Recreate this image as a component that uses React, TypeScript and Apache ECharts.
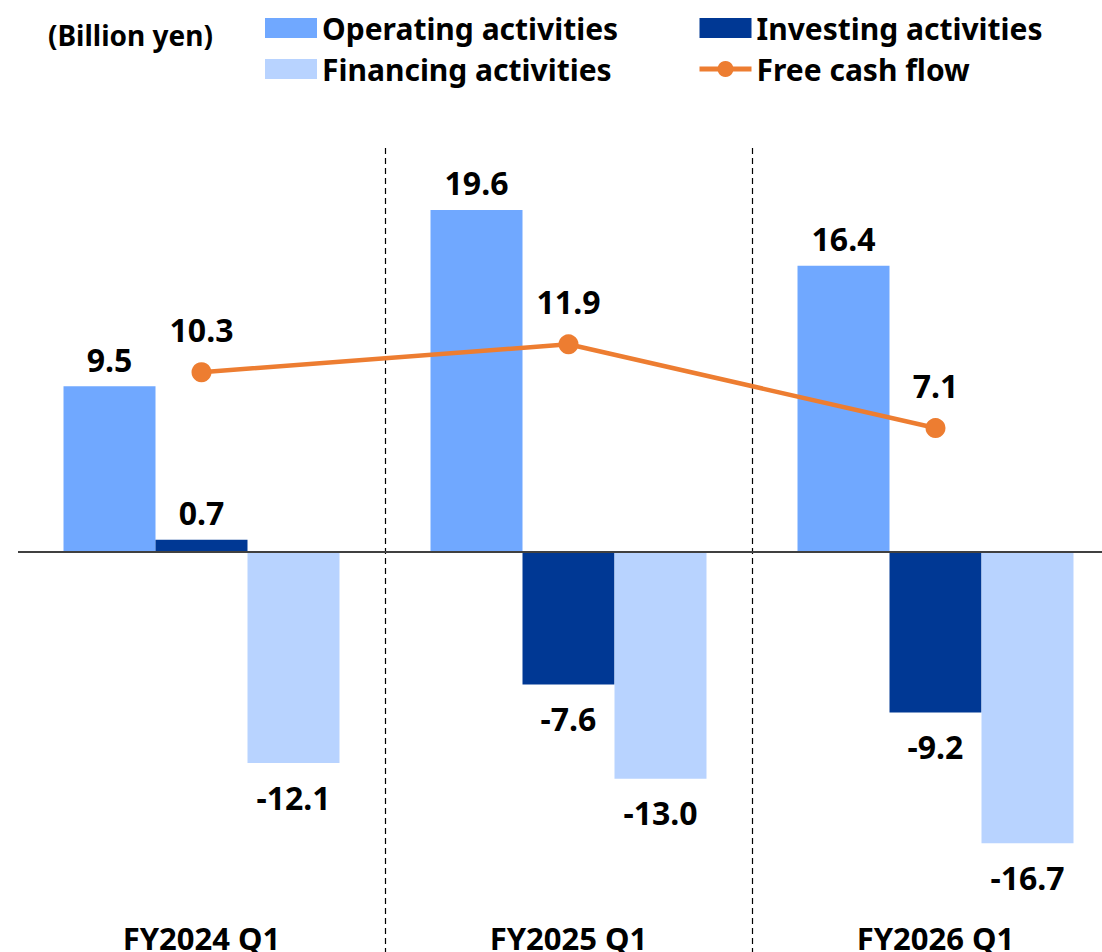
import React, { useEffect, useRef } from "react";
import * as echarts from "echarts";

const categories = ["FY2024 Q1", "FY2025 Q1", "FY2026 Q1"];
const operating = [9.5, 19.6, 16.4];
const investing = [0.7, -7.6, -9.2];
const financing = [-12.1, -13.0, -16.7];
const freeCashFlow = [10.3, 11.9, 7.1];
const unitLabel = "(Billion yen)";

const FONT = "'Noto Sans', sans-serif";

function barData(values: number[]) {
  return values.map((v) => ({
    value: v,
    label: { position: v >= 0 ? "top" : "bottom", distance: v >= 0 ? 11 : 18 },
  }));
}

export default function App() {
  const ref = useRef<HTMLDivElement>(null);
  useEffect(() => {
    if (!ref.current) return;
    const chart = echarts.init(ref.current, undefined, { renderer: "svg" });
    const labelStyle = {
      show: true,
      fontFamily: FONT,
      fontWeight: "bold",
      fontSize: 32,
      color: "#000",
      formatter: (p: any) => Number(p.value).toFixed(1),
    };
    const legendText = { fontFamily: FONT, fontWeight: "bold", fontSize: 30, lineHeight: 32, color: "#000" };
    chart.setOption({
      animation: false,
      backgroundColor: "#fff",
      textStyle: { fontFamily: FONT },
      graphic: [
        {
          type: "text",
          left: 48,
          top: 21,
          style: { text: unitLabel, fontFamily: FONT, fontWeight: "bold", fontSize: 28, fill: "#000" },
        },
      ],
      legend: [
        {
          orient: "vertical",
          left: 260,
          top: 7,
          itemWidth: 52,
          itemHeight: 20,
          itemGap: 9,
          data: [
            { name: "Operating activities", icon: "rect" },
            { name: "Financing activities", icon: "rect" },
          ],
          textStyle: legendText,
        },
        {
          orient: "vertical",
          left: 692,
          top: 7,
          itemWidth: 52,
          itemHeight: 20,
          itemGap: 9,
          data: [
            { name: "Investing activities", icon: "rect" },
            { name: "Free cash flow", lineStyle: { width: 5 } },
          ],
          textStyle: legendText,
        },
      ],
      grid: { left: 18, right: 6, top: 148, bottom: 3, containLabel: false },
      xAxis: {
        type: "category",
        data: categories,
        boundaryGap: true,
        axisLine: { show: false },
        axisTick: { show: false },
        axisLabel: {
          margin: -40,
          fontFamily: FONT,
          fontWeight: "bold",
          fontSize: 31,
          color: "#000",
        },
        splitLine: {
          show: true,
          showMinLine: false,
          showMaxLine: false,
          lineStyle: { color: "#000", width: 1.2, type: [6, 4] },
        },
      },
      yAxis: {
        type: "value",
        min: -23.5,
        max: 23.15,
        show: false,
        splitLine: { show: false },
      },
      series: [
        {
          name: "Operating activities",
          type: "bar",
          data: barData(operating),
          barGap: "0%",
          barCategoryGap: "24.8%",
          itemStyle: { color: "#70A8FF" },
          label: labelStyle,
          markLine: {
            silent: true,
            symbol: "none",
            label: { show: false },
            lineStyle: { color: "#404040", width: 2, type: "solid" },
            data: [{ yAxis: 0 }],
          },
        },
        {
          name: "Investing activities",
          type: "bar",
          data: barData(investing),
          itemStyle: { color: "#003894" },
          label: labelStyle,
        },
        {
          name: "Financing activities",
          type: "bar",
          data: barData(financing),
          itemStyle: { color: "#B8D3FF" },
          label: labelStyle,
        },
        {
          name: "Free cash flow",
          type: "line",
          data: freeCashFlow,
          z: 5,
          symbol: "circle",
          symbolSize: 20,
          itemStyle: { color: "#ED7D31" },
          lineStyle: { color: "#ED7D31", width: 4.5 },
          label: { ...labelStyle, position: "top", distance: 17 },
        },
      ],
    });
    return () => chart.dispose();
  }, []);
  return (
    <div
      ref={ref}
      style={{ position: "fixed", left: 0, top: 0, width: 1125, height: 965, background: "#fff" }}
    />
  );
}
